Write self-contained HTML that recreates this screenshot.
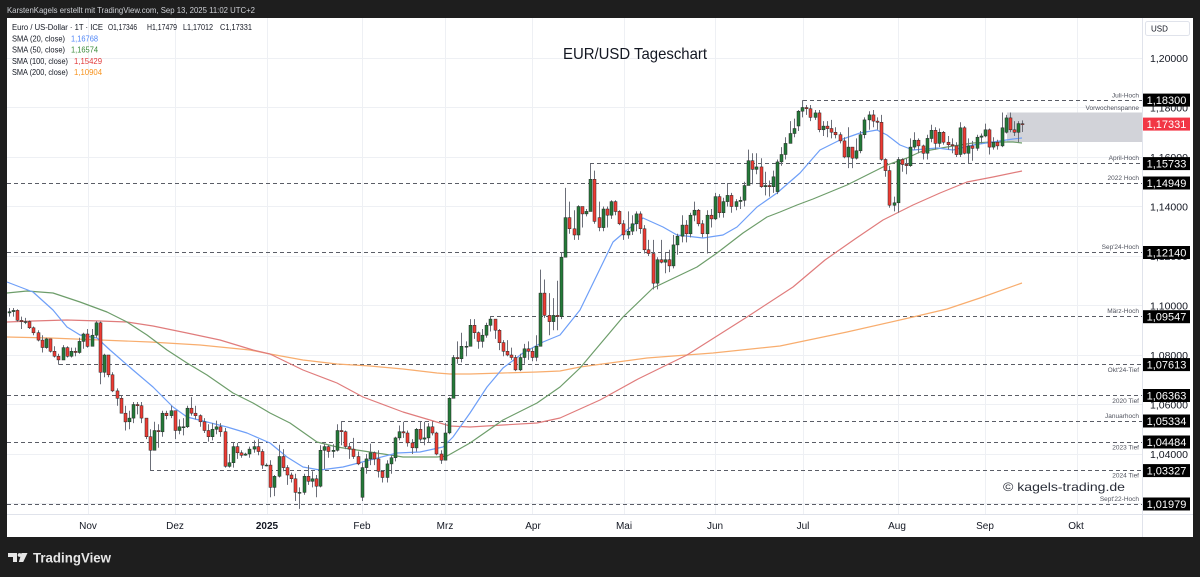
<!DOCTYPE html>
<html><head><meta charset="utf-8">
<style>
html,body{margin:0;padding:0;background:#1e1e1e;}
body{width:1200px;height:577px;overflow:hidden;position:relative;}
svg{position:absolute;left:0;top:0;font-family:"Liberation Sans",Arial,sans-serif;}
</style></head>
<body>
<svg width="1200" height="577" viewBox="0 0 1200 577" xmlns="http://www.w3.org/2000/svg">
<rect x="0" y="0" width="1200" height="577" fill="#1e1e1e"/>
<text x="7" y="13" font-size="8.5" fill="#cfd1d6" textLength="248" lengthAdjust="spacingAndGlyphs">KarstenKagels erstellt mit TradingView.com, Sep 13, 2025 11:02 UTC+2</text>
<rect x="7" y="18" width="1186" height="519" fill="#ffffff"/>

<!-- grid -->
<g stroke="#eef0f4" stroke-width="1">
<line x1="7" y1="58.5" x2="1142" y2="58.5"/>
<line x1="7" y1="107.5" x2="1142" y2="107.5"/>
<line x1="7" y1="157.5" x2="1142" y2="157.5"/>
<line x1="7" y1="206.5" x2="1142" y2="206.5"/>
<line x1="7" y1="256.5" x2="1142" y2="256.5"/>
<line x1="7" y1="305.5" x2="1142" y2="305.5"/>
<line x1="7" y1="355.5" x2="1142" y2="355.5"/>
<line x1="7" y1="404.5" x2="1142" y2="404.5"/>
<line x1="7" y1="454.5" x2="1142" y2="454.5"/>
<line x1="7" y1="503.5" x2="1142" y2="503.5"/>
<line x1="88.5" y1="18" x2="88.5" y2="514"/>
<line x1="175.5" y1="18" x2="175.5" y2="514"/>
<line x1="267.5" y1="18" x2="267.5" y2="514"/>
<line x1="362.5" y1="18" x2="362.5" y2="514"/>
<line x1="445.5" y1="18" x2="445.5" y2="514"/>
<line x1="532.5" y1="18" x2="532.5" y2="514"/>
<line x1="624.5" y1="18" x2="624.5" y2="514"/>
<line x1="715.5" y1="18" x2="715.5" y2="514"/>
<line x1="803.5" y1="18" x2="803.5" y2="514"/>
<line x1="898.5" y1="18" x2="898.5" y2="514"/>
<line x1="985.5" y1="18" x2="985.5" y2="514"/>
<line x1="1077.5" y1="18" x2="1077.5" y2="514"/>
</g>

<!-- Vorwochenspanne box -->
<rect x="1007" y="112.5" width="135" height="29.5" fill="#d2d3d9"/>

<!-- dashed levels -->
<g stroke="#5a5d66" stroke-width="1" stroke-dasharray="4 3">
<line x1="803" y1="100.5" x2="1142" y2="100.5"/>
<line x1="590" y1="163.5" x2="1142" y2="163.5"/>
<line x1="7" y1="183.5" x2="1142" y2="183.5"/>
<line x1="7" y1="252.5" x2="1142" y2="252.5"/>
<line x1="490" y1="316.5" x2="1142" y2="316.5"/>
<line x1="59" y1="364.5" x2="1142" y2="364.5"/>
<line x1="7" y1="395.5" x2="1142" y2="395.5"/>
<line x1="341" y1="421.5" x2="1142" y2="421.5"/>
<line x1="7" y1="442.5" x2="1142" y2="442.5"/>
<line x1="150" y1="470.5" x2="1142" y2="470.5"/>
<line x1="7" y1="504.5" x2="1142" y2="504.5"/>
</g>

<!-- SMAs -->
<g fill="none" stroke-width="1.2" stroke-linejoin="round">
<polyline stroke="#f8ad6e" points="7,337 50,338 100,340 150,342 200,345 250,350 270,354 303,360 337,364 370,366 403,369 437,373 450,374 470,374 503,373 537,372 560,371 580,367 647,358 713,353 780,346 847,332 913,317 947,309 980,298 1022,283"/>
<polyline stroke="#e07c7c" points="7,322 33,321 67,320 100,321 127,322 153,326 187,333 220,340 253,350 270,354 303,370 337,383 363,397 403,412 430,420 450,426 470,427 503,425 537,423 560,418 600,400 638,379 687,355 747,317 793,287 825,260 855,239 883,220 913,205 940,193 967,182 993,177 1022,171"/>
<polyline stroke="#6d9d6a" points="7,293 27,291 53,293 80,302 107,312 127,322 147,335 167,350 187,363 207,375 233,393 253,403 270,413 290,423 317,442 337,447 370,452 403,457 437,457 447,456 470,443 503,420 537,403 560,387 580,368 623,317 653,288 697,267 717,253 743,233 767,217 780,212 797,205 813,199 847,185 873,172 887,165 907,158 920,152 947,147 973,143 993,142 1013,142 1022,143"/>
<polyline stroke="#6e9ff8" points="7,282 33,292 53,310 67,327 80,335 97,338 110,350 133,370 153,387 173,407 187,417 207,422 227,427 247,433 270,443 287,457 303,467 320,470 343,467 370,460 397,453 420,452 443,447 453,437 470,413 487,387 503,368 523,353 543,342 560,335 580,310 597,275 613,242 627,230 643,218 663,227 677,235 703,238 723,235 737,227 757,207 777,193 800,173 820,150 840,140 860,133 877,130 887,135 900,145 913,150 937,148 953,150 973,145 993,142 1013,139 1022,138"/>
</g>

<!-- candles -->
<g id="candles"></g>

<!-- level labels -->
<g font-size="6.5" fill="#50535e" text-anchor="end">
<text x="1139" y="97.5">Juli-Hoch</text>
<text x="1139" y="110">Vorwochenspanne</text>
<text x="1139" y="160">April-Hoch</text>
<text x="1139" y="180">2022 Hoch</text>
<text x="1139" y="249">Sep'24-Hoch</text>
<text x="1139" y="313">März-Hoch</text>
<text x="1139" y="372">Okt'24-Tief</text>
<text x="1139" y="403">2020 Tief</text>
<text x="1139" y="418">Januarhoch</text>
<text x="1139" y="449.5">2023 Tief</text>
<text x="1139" y="477.5">2024 Tief</text>
<text x="1139" y="501">Sept'22-Hoch</text>
</g>

<!-- axes separators -->
<line x1="1142.5" y1="18" x2="1142.5" y2="537" stroke="#e0e3eb" stroke-width="1"/>
<line x1="7" y1="514.5" x2="1193" y2="514.5" stroke="#e0e3eb" stroke-width="1"/>

<!-- USD box -->
<rect x="1145.5" y="21.5" width="44" height="14" rx="2" fill="#fff" stroke="#e0e3eb"/>
<text x="1151" y="31.5" font-size="8" fill="#131722">USD</text>

<!-- price axis labels -->
<g font-size="10.5" fill="#131722">
<text x="1150" y="62">1,20000</text>
<text x="1150" y="111.3">1,18000</text>
<text x="1150" y="161">1,16000</text>
<text x="1150" y="210.3">1,14000</text>
<text x="1150" y="259.8">1,12000</text>
<text x="1150" y="309.3">1,10000</text>
<text x="1150" y="358.8">1,08000</text>
<text x="1150" y="408.3">1,06000</text>
<text x="1150" y="457.8">1,04000</text>
<text x="1150" y="507.3">1,02000</text>
</g>

<!-- price boxes -->
<g>
<rect x="1143" y="93.6" width="47" height="13" fill="#000"/>
<rect x="1143" y="117.6" width="47" height="13" fill="#f23645"/>
<rect x="1143" y="157.1" width="47" height="13" fill="#000"/>
<rect x="1143" y="176.5" width="47" height="13" fill="#000"/>
<rect x="1143" y="246" width="47" height="13" fill="#000"/>
<rect x="1143" y="310.2" width="47" height="13" fill="#000"/>
<rect x="1143" y="358.1" width="47" height="13" fill="#000"/>
<rect x="1143" y="389" width="47" height="13" fill="#000"/>
<rect x="1143" y="414.5" width="47" height="13" fill="#000"/>
<rect x="1143" y="435.5" width="47" height="13" fill="#000"/>
<rect x="1143" y="464.1" width="47" height="13" fill="#000"/>
<rect x="1143" y="497.5" width="47" height="13" fill="#000"/>
</g>
<g font-size="11" fill="#ffffff" text-anchor="middle">
<text x="1166.5" y="104">1,18300</text>
<text x="1166.5" y="128">1,17331</text>
<text x="1166.5" y="167.5">1,15733</text>
<text x="1166.5" y="187">1,14949</text>
<text x="1166.5" y="256.5">1,12140</text>
<text x="1166.5" y="320.7">1,09547</text>
<text x="1166.5" y="368.6">1,07613</text>
<text x="1166.5" y="399.5">1,06363</text>
<text x="1166.5" y="425">1,05334</text>
<text x="1166.5" y="446">1,04484</text>
<text x="1166.5" y="474.6">1,03327</text>
<text x="1166.5" y="508">1,01979</text>
</g>

<!-- time axis -->
<g font-size="10" fill="#131722" text-anchor="middle">
<text x="88" y="529">Nov</text>
<text x="175" y="529">Dez</text>
<text x="267" y="529" font-weight="bold">2025</text>
<text x="362" y="529">Feb</text>
<text x="445" y="529">Mrz</text>
<text x="533" y="529">Apr</text>
<text x="624" y="529">Mai</text>
<text x="715" y="529">Jun</text>
<text x="803" y="529">Jul</text>
<text x="897" y="529">Aug</text>
<text x="985" y="529">Sep</text>
<text x="1076" y="529">Okt</text>
</g>

<!-- legend -->
<g font-size="8" fill="#131722">
<text x="12" y="30" textLength="91" lengthAdjust="spacingAndGlyphs">Euro / US-Dollar · 1T · ICE</text>
<text x="108" y="30" textLength="29" lengthAdjust="spacingAndGlyphs">O1,17346</text>
<text x="147" y="30" textLength="30" lengthAdjust="spacingAndGlyphs">H1,17479</text>
<text x="183" y="30" textLength="30" lengthAdjust="spacingAndGlyphs">L1,17012</text>
<text x="220" y="30" textLength="32" lengthAdjust="spacingAndGlyphs">C1,17331</text>
<text x="12" y="41.5" textLength="53" lengthAdjust="spacingAndGlyphs">SMA (20, close)</text>
<text x="71" y="41.5" fill="#4f86f7" textLength="27" lengthAdjust="spacingAndGlyphs">1,16768</text>
<text x="12" y="52.5" textLength="53" lengthAdjust="spacingAndGlyphs">SMA (50, close)</text>
<text x="71" y="52.5" fill="#3a8b3a" textLength="27" lengthAdjust="spacingAndGlyphs">1,16574</text>
<text x="12" y="64" textLength="56" lengthAdjust="spacingAndGlyphs">SMA (100, close)</text>
<text x="74" y="64" fill="#e23b3b" textLength="28" lengthAdjust="spacingAndGlyphs">1,15429</text>
<text x="12" y="75" textLength="56" lengthAdjust="spacingAndGlyphs">SMA (200, close)</text>
<text x="74" y="75" fill="#f7931e" textLength="28" lengthAdjust="spacingAndGlyphs">1,10904</text>
</g>

<!-- title and watermark -->
<text x="563" y="59" font-size="16" fill="#131722" textLength="144" lengthAdjust="spacingAndGlyphs">EUR/USD Tageschart</text>
<text x="1003" y="491" font-size="12" fill="#2a2e39" textLength="122" lengthAdjust="spacingAndGlyphs">© kagels-trading.de</text>

<!-- bottom logo -->
<g fill="#e6e6e6">
<path d="M8,553 H17 V562 H13 V557 H8 Z"/>
<circle cx="19.6" cy="555" r="1.9"/>
<path d="M21.5,553 H27.5 L23.2,562 H18.8 Z"/>
</g>
<text x="33" y="562.5" font-size="14" font-weight="bold" fill="#e6e6e6" textLength="78" lengthAdjust="spacingAndGlyphs">TradingView</text>
</svg>

<script>
(function(){
var raw=[
"970,975,990,955;980,990,955;940,985,935;935,955,905;935,950,925;910,940,905;890,915,880;860,900,855;830,880,810;865,870,825;815,865,810;795,835,790;780,805,761;830,840,780;795,835,790;815,830,790;810,830,795;855,870,805;885,890,825",
"835,905,830;880,905,845;930,937,870;730,935,682;800,805,710;720,800,710;655,730,650;625,665,595;565,635,565;530,595,495;545,575,500;600,610,525;595,610,560;545,610,525;470,545,460;415,500,333;495,530,425;490,520,425;565,575,470;555,575,540;575,595,545",
"495,570,460;510,540,480;510,545,475;585,595,505;565,630,555;555,595,540;530,560,510;495,545,485;470,520,450;500,525,455;510,535,480;490,525,470;350,505,345;365,400,345;430,445,345;405,445,380;395,415,385;400,405,393;420,430,385;430,455,405;410,460,395;355,420,340",
"355,362,350;265,375,225;310,315,230;390,437,305;345,420,330;315,355,275;300,325,285;245,320,210;245,265,178;310,320,235;290,355,275;300,330,265;270,315,225;415,435,265;430,440,340;410,435,385;415,440,385;495,520,410;490,533,435;430,495,420;420,445,380;390,465,380;360,410,355",
"225,345,365,210;380,400,320;405,442,355;380,410,355;330,415,305;305,335,285;360,375,285;385,395,320;465,470,370;490,515,455;485,530,465;445,495,430;425,460,400;500,505,410;460,530,450;465,530,435;510,525,445;485,530,475;400,490,395;375,415,360",
"485,525,385;625,630,480;790,800,625;785,855,765;835,890,770;835,855,795;920,945,835;890,945,865;855,895,825;880,905,830;920,930,870;945,955,895;900,945,865;850,905,820;815,860,795;800,860,795;790,830,780;740,800,735;790,805,735;825,845,765;815,855,780",
"790,830,775;835,880,775;1050,1145,835;960,1105,950;935,1050,880;960,1030,900;955,1100,900;1195,1215,945;1355,1475,1195;1310,1420,1290;1285,1385,1265;1400,1405,1265;1370,1400,1315;1380,1390,1360;1510,1573,1385;1340,1545,1330;1355,1315,1420,1300;1390,1400,1300;1365,1400,1315;1420,1425,1350;1380,1425,1365;1330,1385,1325",
"1285,1345,1265;1300,1380,1270;1330,1365,1285;1370,1380,1300;1310,1380,1290;1225,1325,1210;1210,1265,1200;1090,1265,1065;1185,1195,1065;1175,1265,1170;1185,1215,1130;1160,1225,1135;1245,1285,1150;1280,1290,1205;1325,1365,1255;1290,1345,1255;1365,1375,1275;1385,1420,1340;1330,1390,1320;1290,1345,1275;1365,1385,1210;1350,1390,1315",
"1440,1455,1345;1375,1450,1355;1420,1435,1355;1445,1495,1400;1400,1455,1375;1420,1430,1385;1425,1440,1390;1485,1500,1400;1585,1630,1485;1550,1615,1490;1560,1615,1530;1480,1595,1475;1485,1540,1445;1480,1505,1440;1520,1545,1455;1460,1580,1590,1450;1610,1640,1565;1655,1680,1590;1695,1745,1655;1715,1755,1680;1725,1785,1790,1705",
"1800,1830,1760;1795,1810,1770;1760,1810,1745;1778,1790,1750;1710,1790,1700;1725,1745,1685;1715,1745,1680;1700,1750,1675;1690,1720,1675;1665,1700,1655;1600,1680,1595;1640,1720,1555;1595,1640,1555;1625,1675,1590;1690,1705,1615;1750,1760,1675;1770,1785,1710;1745,1790,1720;1740,1760,1710;1590,1770,1585;1545,1595,1520;1405,1565,1395;1415,1440,1380",
"1590,1600,1375;1570,1595,1540;1565,1595,1530;1640,1675,1560;1668,1700,1630;1645,1675,1615;1615,1650,1590;1675,1690,1590;1708,1730,1660;1655,1720,1630;1700,1715,1640;1660,1705,1650;1650,1685,1630;1645,1675,1615;1610,1660,1600;1718,1740,1600;1615,1725,1610;1645,1675,1575;1635,1665,1585;1680,1690,1625;1685,1695,1655",
"1710,1735,1680;1640,1715,1610;1660,1680,1630;1645,1670,1630;1718,1780,1640;1700,1758,1770,1695;1710,1780,1700;1700,1745,1685;1735,1745,1660;1734.6,1733.1,1747.9,1701.2"
].join(";");
var ents=raw.split(";");
var prev=null,out="";
function Y(v){return 58+(2000-v)*0.2475;}
for(var i=0;i<ents.length;i++){
  var e=ents[i].split(",").map(Number);
  var o,c,h,l;
  if(e.length===4){o=e[0];c=e[1];h=e[2];l=e[3];}
  else{c=e[0];h=e[1];l=e[2];o=(prev===null)?c:prev;}
  prev=c;
  h=Math.max(h,o,c);l=Math.min(l,o,c);
  var x=9+i*4.155;
  var bx=Math.round(x-1.5);
  var up=c>=o;
  var top=Y(Math.max(o,c)),bot=Y(Math.min(o,c));
  out+='<line x1="'+(bx+1.5)+'" y1="'+Y(h).toFixed(1)+'" x2="'+(bx+1.5)+'" y2="'+Y(l).toFixed(1)+'" stroke="#6b6e78" stroke-width="1"/>';
  out+='<rect x="'+bx+'" y="'+top.toFixed(1)+'" width="3" height="'+Math.max(bot-top,0.9).toFixed(1)+'" fill="'+(up?'#237a38':'#ee3b33')+'" stroke="#262626" stroke-width="0.5"/>';
}
document.getElementById("candles").innerHTML=out;
})();
</script>
</body></html>
